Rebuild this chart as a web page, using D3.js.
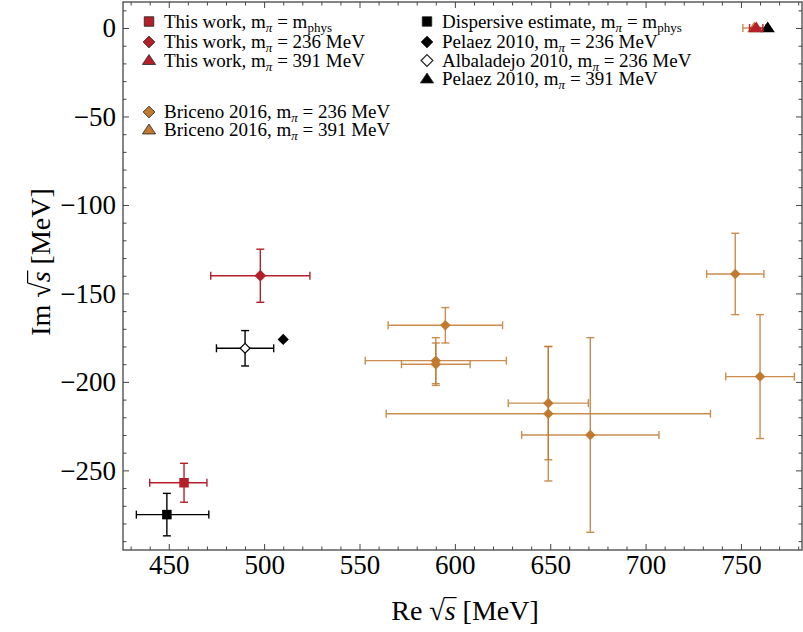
<!DOCTYPE html>
<html>
<head>
<meta charset="utf-8">
<script src="https://cdn.jsdelivr.net/npm/d3@7"></script>
<style>
body { margin: 0; background: #fff; }
svg text { font-family: "Liberation Serif", "DejaVu Serif", serif; fill: #000; }
</style>
</head>
<body>
<div id="chart"></div>
<script>
// pole positions, Re and Im of sqrt(s) in MeV, with minus / plus errors
var thisWorkPhys   = [{re: 458, reLo: 18, reHi: 12, im: -257, imLo: 11, imHi: 11}];
var thisWork236    = [{re: 498, reLo: 26, reHi: 26, im: -140, imLo: 15, imHi: 15}];
var thisWork391    = [{re: 758, reLo: 3.5, reHi: 3.5, im: 0, imLo: 0, imHi: 0}];
var dispersive     = [{re: 449, reLo: 16, reHi: 22, im: -275, imLo: 12, imHi: 12}];
var pelaez236      = [{re: 510, reLo: 0, reHi: 0, im: -176, imLo: 0, imHi: 0}];
var albaladejo236  = [{re: 490, reLo: 15, reHi: 15, im: -181, imLo: 10, imHi: 10}];
var pelaez391      = [{re: 764, reLo: 0, reHi: 0, im: 0, imLo: 0, imHi: 0}];
var briceno236 = [
  {re: 595, reLo: 30, reHi: 30, im: -168, imLo: 10, imHi: 10},
  {re: 590, reLo: 37, reHi: 37, im: -188, imLo: 13, imHi: 13},
  {re: 590, reLo: 18, reHi: 18, im: -190, imLo: 12, imHi: 12},
  {re: 649, reLo: 21, reHi: 21, im: -212, imLo: 32, imHi: 32},
  {re: 649, reLo: 85, reHi: 85, im: -218, imLo: 38, imHi: 38},
  {re: 671, reLo: 36, reHi: 36, im: -230, imLo: 55, imHi: 55},
  {re: 747, reLo: 15, reHi: 15, im: -139, imLo: 23, imHi: 23},
  {re: 760, reLo: 18, reHi: 18, im: -197, imLo: 35, imHi: 35}
];
var briceno391 = [{re: 757, reLo: 6, reHi: 6, im: 0, imLo: 0, imHi: 0}];

var xTicks = [450, 500, 550, 600, 650, 700, 750];
var yTicks = [0, -50, -100, -150, -200, -250];
var xDomain = [426, 782];
var yDomain = [-295, 14.7];

var RED = "#b3202a", ORANGE = "#c17a30", BLACK = "#000";

var width = 803, height = 632;
var margin = {left: 123, right: 1, top: 2, bottom: 82};

var svg = d3.select("#chart").append("svg")
  .attr("width", width).attr("height", height);

var x = d3.scaleLinear().domain(xDomain).range([margin.left, width - margin.right]);
var y = d3.scaleLinear().domain(yDomain).range([height - margin.bottom, margin.top]);

var x0 = x.range()[0], x1 = x.range()[1], y0 = y.range()[0], y1 = y.range()[1];
var frameColor = "#444";

//minor ticks every 10
var xMinor = d3.range(430, 782, 10).filter(function(v){ return v % 50 != 0; });
var yMinor = d3.range(-290, 15, 10).filter(function(v){ return v % 50 != 0; });
var yMajor = [10].length ? yTicks : yTicks;

function styleAxis(g){
  g.select(".domain").remove();
  g.selectAll("line").attr("stroke", frameColor).attr("stroke-width", 1);
}

// bottom
svg.append("g").attr("transform", "translate(0," + y0 + ")")
  .call(d3.axisBottom(x).tickValues(xTicks).tickSizeInner(-6).tickSizeOuter(0).tickPadding(5).tickFormat(d3.format("d")))
  .call(styleAxis)
  .selectAll("text").attr("font-size", 27).attr("font-family", null);
svg.append("g").attr("transform", "translate(0," + y0 + ")")
  .call(d3.axisBottom(x).tickValues(xMinor).tickSizeInner(-3.5).tickSizeOuter(0).tickFormat(""))
  .call(styleAxis);
// top
svg.append("g").attr("transform", "translate(0," + y1 + ")")
  .call(d3.axisTop(x).tickValues(xTicks).tickSizeInner(-6).tickSizeOuter(0).tickFormat(""))
  .call(styleAxis);
svg.append("g").attr("transform", "translate(0," + y1 + ")")
  .call(d3.axisTop(x).tickValues(xMinor).tickSizeInner(-3.5).tickSizeOuter(0).tickFormat(""))
  .call(styleAxis);
// left
svg.append("g").attr("transform", "translate(" + x0 + ",0)")
  .call(d3.axisLeft(y).tickValues(yTicks).tickSizeInner(-6).tickSizeOuter(0).tickPadding(7).tickFormat(d3.format("d")))
  .call(styleAxis)
  .selectAll("text").attr("font-size", 27).attr("font-family", null);
svg.append("g").attr("transform", "translate(" + x0 + ",0)")
  .call(d3.axisLeft(y).tickValues(yMinor).tickSizeInner(-3.5).tickSizeOuter(0).tickFormat(""))
  .call(styleAxis);
// right
svg.append("g").attr("transform", "translate(" + x1 + ",0)")
  .call(d3.axisRight(y).tickValues(yTicks).tickSizeInner(-6).tickSizeOuter(0).tickFormat(""))
  .call(styleAxis);
svg.append("g").attr("transform", "translate(" + x1 + ",0)")
  .call(d3.axisRight(y).tickValues(yMinor).tickSizeInner(-3.5).tickSizeOuter(0).tickFormat(""))
  .call(styleAxis);

svg.append("rect")
  .attr("x", x0).attr("y", y1)
  .attr("width", x1 - x0).attr("height", y0 - y1)
  .attr("fill", "none").attr("stroke", frameColor).attr("stroke-width", 1.3);


//marker path for a shape centred on 0,0
function markerPath(shape, s){
  if (shape == "square") return "M" + (-s/2) + "," + (-s/2) + "h" + s + "v" + s + "h" + (-s) + "Z";
  if (shape == "diamond") { var r = s * 0.62; return "M0," + (-r) + "L" + r + ",0L0," + r + "L" + (-r) + ",0Z"; }
  if (shape == "triangle") { var h = s * 0.9; return "M0," + (-h*0.6) + "L" + (s*0.6) + "," + (h*0.4) + "L" + (-s*0.6) + "," + (h*0.4) + "Z"; }
}

var cap = 4;

function drawSeries(data, shape, color, open, size, barOpacity){
  var pts = svg.append("g").selectAll("g")
    .data(data).enter().append("g");

  pts.each(function(d){
    var g = d3.select(this);
    var cx = x(d.re), cy = y(d.im);
    var bars = g.append("g").attr("stroke", color).attr("stroke-width", 1.4).attr("opacity", barOpacity);
    if (d.reLo || d.reHi) {
      var xa = x(d.re - d.reLo), xb = x(d.re + d.reHi);
      bars.append("line").attr("x1", xa).attr("x2", xb).attr("y1", cy).attr("y2", cy);
      bars.append("line").attr("x1", xa).attr("x2", xa).attr("y1", cy - cap).attr("y2", cy + cap);
      bars.append("line").attr("x1", xb).attr("x2", xb).attr("y1", cy - cap).attr("y2", cy + cap);
    }
    if (d.imLo || d.imHi) {
      var ya = y(d.im - d.imLo), yb = y(d.im + d.imHi);
      bars.append("line").attr("x1", cx).attr("x2", cx).attr("y1", ya).attr("y2", yb);
      bars.append("line").attr("x1", cx - cap).attr("x2", cx + cap).attr("y1", ya).attr("y2", ya);
      bars.append("line").attr("x1", cx - cap).attr("x2", cx + cap).attr("y1", yb).attr("y2", yb);
    }
    g.append("path")
      .attr("transform", "translate(" + cx + "," + cy + ")")
      .attr("d", markerPath(shape, size))
      .attr("fill", open ? "#fff" : color)
      .attr("stroke", open ? color : "none")
      .attr("stroke-width", 1.2);
  });
}

drawSeries(briceno236, "diamond", ORANGE, false, 8.5, 0.85);
drawSeries(briceno391, "triangle", ORANGE, false, 12, 0.85);
drawSeries(dispersive, "square", BLACK, false, 9.5, 1);
drawSeries(pelaez236, "diamond", BLACK, false, 9, 1);
drawSeries(albaladejo236, "diamond", BLACK, true, 8, 1);
drawSeries(pelaez391, "triangle", BLACK, false, 12, 1);
drawSeries(thisWorkPhys, "square", RED, false, 9.5, 1);
drawSeries(thisWork236, "diamond", RED, false, 9.5, 1);
drawSeries(thisWork391, "triangle", RED, false, 12, 1);


//Legend
function legendEntry(mx, my, shape, color, open, parts){
  var lg = svg.append("g").attr("class", "legend");
  lg.append("path")
    .attr("transform", "translate(" + mx + "," + my + ")")
    .attr("d", markerPath(shape, shape == "triangle" ? 11 : 9.5))
    .attr("fill", open ? "#fff" : color)
    .attr("stroke", "#222").attr("stroke-width", open ? 1.2 : 0.8);
  var t = lg.append("text").attr("x", mx + 15).attr("y", my + 6).attr("font-size", 19);
  var shift = 0;
  parts.forEach(function(p){
    var ts = t.append("tspan").text(p[0]);
    if (p[1] == "sub") {
      ts.attr("font-size", 13).attr("dy", 4 - shift);
      shift = 4;
      if (p[0] == "π") ts.attr("font-style", "italic");
    } else {
      ts.attr("dy", -shift);
      shift = 0;
    }
  });
}

var mPi = [["This work, m"], ["π", "sub"], [" = "]];
legendEntry(149, 21.5, "square", RED, false, [["This work, m"], ["π", "sub"], [" = m"], ["phys", "sub"]]);
legendEntry(149, 42, "diamond", RED, false, [["This work, m"], ["π", "sub"], [" = 236 MeV"]]);
legendEntry(149, 60.5, "triangle", RED, false, [["This work, m"], ["π", "sub"], [" = 391 MeV"]]);
legendEntry(149, 112, "diamond", ORANGE, false, [["Briceno 2016, m"], ["π", "sub"], [" = 236 MeV"]]);
legendEntry(149, 130, "triangle", ORANGE, false, [["Briceno 2016, m"], ["π", "sub"], [" = 391 MeV"]]);

legendEntry(427, 21.5, "square", BLACK, false, [["Dispersive estimate, m"], ["π", "sub"], [" = m"], ["phys", "sub"]]);
legendEntry(427, 42, "diamond", BLACK, false, [["Pelaez 2010, m"], ["π", "sub"], [" = 236 MeV"]]);
legendEntry(427, 60.5, "diamond", BLACK, true, [["Albaladejo 2010, m"], ["π", "sub"], [" = 236 MeV"]]);
legendEntry(427, 79, "triangle", BLACK, false, [["Pelaez 2010, m"], ["π", "sub"], [" = 391 MeV"]]);


//Axis titles with sqrt(s)
function axisTitle(g, prefix){
  var fs = 28;
  var t = g.append("text").attr("text-anchor", "middle").attr("font-size", fs);
  t.append("tspan").text(prefix + " \u221A");
  t.append("tspan").attr("font-style", "italic").text("s");
  t.append("tspan").text(" [MeV]");
  var n = t.node();
  var iRad = prefix.length + 1, iS = prefix.length + 2;
  var radEnd = n.getEndPositionOfChar(iRad);
  var sEnd = n.getEndPositionOfChar(iS);
  g.append("line")
    .attr("x1", radEnd.x - 1).attr("x2", sEnd.x + 1)
    .attr("y1", radEnd.y - fs * 0.8).attr("y2", radEnd.y - fs * 0.8)
    .attr("stroke", "#000").attr("stroke-width", 1.2);
}

axisTitle(svg.append("g").attr("transform", "translate(465,620)"), "Re");
axisTitle(svg.append("g").attr("transform", "translate(50,262) rotate(-90)"), "Im");
</script>
</body>
</html>
